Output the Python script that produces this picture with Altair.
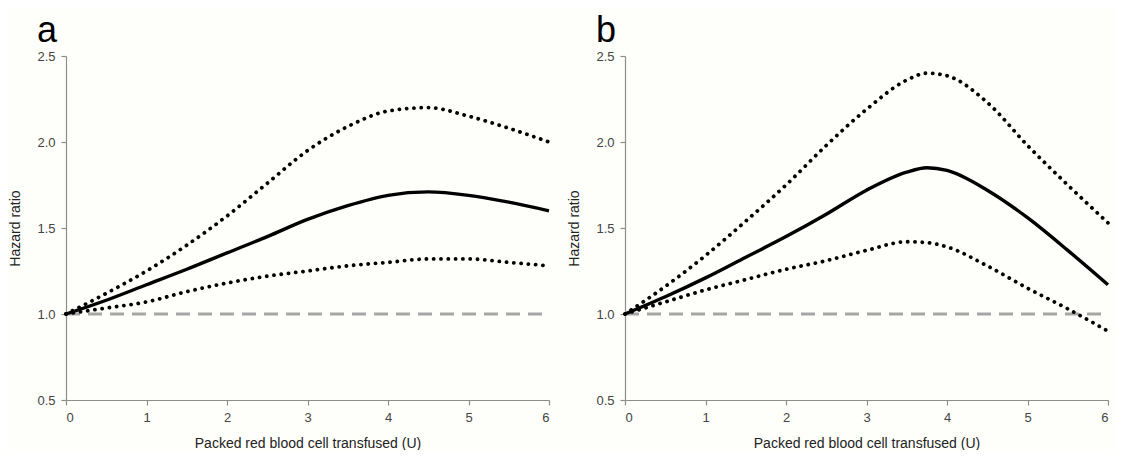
import altair as alt
import pandas as pd

# ---- data ----
x_a = [0, 0.5, 1, 1.5, 2, 2.5, 3, 3.5, 4, 4.5, 5, 5.5, 6]
a_hr = [1.0, 1.08, 1.17, 1.26, 1.355, 1.45, 1.55, 1.63, 1.69, 1.71, 1.69, 1.65, 1.60]
a_up = [1.0, 1.12, 1.25, 1.40, 1.57, 1.76, 1.95, 2.09, 2.18, 2.20, 2.15, 2.08, 2.00]
a_lo = [1.0, 1.035, 1.07, 1.13, 1.18, 1.22, 1.25, 1.28, 1.30, 1.32, 1.32, 1.30, 1.28]

x_b = [0, 0.5, 1, 1.5, 2, 2.5, 3, 3.5, 3.75, 4, 4.5, 5, 5.5, 6]
b_hr = [1.0, 1.10, 1.21, 1.33, 1.45, 1.58, 1.72, 1.825, 1.85, 1.835, 1.72, 1.56, 1.37, 1.17]
b_up = [1.0, 1.16, 1.34, 1.54, 1.75, 1.98, 2.19, 2.36, 2.40, 2.385, 2.23, 1.98, 1.75, 1.53]
b_lo = [1.0, 1.07, 1.14, 1.20, 1.26, 1.31, 1.37, 1.42, 1.415, 1.39, 1.28, 1.15, 1.03, 0.90]

ref_x = [0, 6]
ref_y = [1.0, 1.0]

x_ticks = [0, 1, 2, 3, 4, 5, 6]
y_ticks = [0.5, 1.0, 1.5, 2.0, 2.5]

FONT = "Liberation Sans"


def make_df(xs, hr, up, lo):
    rows = []
    for name, ys in (("hr", hr), ("upper", up), ("lower", lo)):
        for xv, yv in zip(xs, ys):
            rows.append({"x": xv, "y": yv, "series": name})
    return pd.DataFrame(rows)


ref_df = pd.DataFrame({"x": ref_x, "y": ref_y})

xscale = alt.Scale(domain=[0, 6], nice=False)
yscale = alt.Scale(domain=[0.5, 2.5], nice=False)


def panel(df, letter):
    xenc = alt.X("x:Q", scale=xscale,
                 axis=alt.Axis(values=x_ticks, title="Packed red blood cell transfused (U)",
                               format="d"))
    yenc = alt.Y("y:Q", scale=yscale,
                 axis=alt.Axis(values=y_ticks, title="Hazard ratio", format=".1f"))
    ref = alt.Chart(ref_df).mark_line(
        color="#a6a6a6", strokeWidth=3, strokeDash=[14, 8]
    ).encode(x=xenc, y=yenc)
    solid = alt.Chart(df).transform_filter(alt.datum.series == "hr").mark_line(
        color="#000000", strokeWidth=3.4, interpolate="monotone"
    ).encode(x=xenc, y=yenc)
    dotted = alt.Chart(df).transform_filter(alt.datum.series != "hr").mark_line(
        color="#000000", strokeWidth=3.8, strokeDash=[0.1, 7.2], strokeCap="round",
        interpolate="monotone"
    ).encode(x=xenc, y=yenc, detail="series:N")
    return alt.layer(ref, solid, dotted).properties(
        width=483, height=344,
        title=alt.TitleParams(letter, anchor="start", frame="group", fontSize=36,
                              font=FONT, fontWeight="normal", color="#000000",
                              dx=-29, offset=0),
    )


left = panel(make_df(x_a, a_hr, a_up, a_lo), "a")
right = panel(make_df(x_b, b_hr, b_up, b_lo), "b")

chart = alt.hconcat(left, right, spacing=10).properties(
    background="#fefefa",
    padding={"left": 0, "top": 5, "right": 0, "bottom": 0},
).configure_view(stroke=None).configure_axis(
    grid=False,
    domainColor="#8c8c8c",
    domainWidth=1.2,
    tickColor="#8c8c8c",
    tickSize=5,
    tickWidth=1.2,
    labelFont=FONT,
    labelFontSize=13,
    labelColor="#444444",
    titleFont=FONT,
    titleFontSize=14,
    titleFontWeight="normal",
    titleColor="#222222",
    labelPadding=6,
).configure_axisY(
    titlePadding=14,
).configure_axisX(
    titlePadding=12,
)

chart.save("out.html", embed_options={"renderer": "svg", "actions": False})
